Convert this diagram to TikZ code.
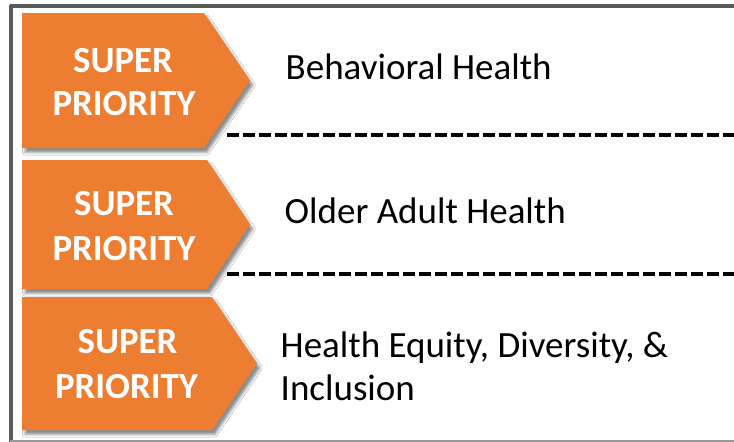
\documentclass[tikz,border=0pt]{standalone}
\usepackage{fontspec}
\setmainfont{Carlito}
\usetikzlibrary{shadows.blur}
\definecolor{accorange}{HTML}{ED7D31}
\definecolor{framegray}{HTML}{5A5A5A}
\tikzset{
  pent/.style={fill=accorange, draw=none,
    blur shadow={shadow xshift=3pt, shadow yshift=-4.5pt, shadow blur radius=2.5pt, shadow opacity=45}},
  tagtext/.style={anchor=base, inner sep=0pt, text=white, font=\fontsize{36.8}{43}\selectfont\bfseries},
  itemtext/.style={anchor=base west, inner sep=0pt, text=black, font=\fontsize{37}{43}\selectfont},
  sepline/.style={line width=4pt, dash pattern=on 12pt off 4pt},
  framerule/.style={draw=framegray, line width=3.5pt}
}
\begin{document}
\begin{tikzpicture}[x=1pt,y=-1pt]
\useasboundingbox (0,0) rectangle (734,442);
\fill[white] (0,0) rectangle (734,442);
% frame
\draw[framerule] (9.5,6) -- (734,6);
\draw[framerule] (11,4.5) -- (11,442);
\draw[draw=gray!80, line width=2pt] (10,441) -- (734,441);
% pentagons
\path[pent] (22,13) -- (204,13) -- (250,80.5) -- (204,148) -- (22,148) -- cycle;
\path[pent] (22,160) -- (207,160) -- (250,224.5) -- (207,289) -- (22,289) -- cycle;
\path[pent] (22,297) -- (212,297) -- (257,363.5) -- (212,430) -- (22,430) -- cycle;
% tag texts
\node[tagtext] (s1) at (123,72) {SUPER};
\node[tagtext] (p1) at (124,115) {PRIORITY};
\node[tagtext] (s2) at (124,215) {SUPER};
\node[tagtext] (p2) at (124,260) {PRIORITY};
\node[tagtext] (s3) at (127.5,353) {SUPER};
\node[tagtext] (p3) at (126.5,398) {PRIORITY};
% item texts
\node[itemtext] (t1) at (285.5,79) {Behavioral Health};
\node[itemtext] (t2) at (284.5,223) {Older Adult Health};
\node[itemtext] (t3) at (280.5,357) {Health Equity, Diversity, \&};
\node[itemtext] (t4) at (280.5,400) {Inclusion};
% separators
\coordinate (d1a) at (227.3,134.7);
\coordinate (d1b) at (734,134.7);
\coordinate (d2a) at (227.3,274);
\coordinate (d2b) at (734,274);
\draw[sepline] (d1a) -- (d1b);
\draw[sepline] (d2a) -- (d2b);
\end{tikzpicture}
\end{document}
